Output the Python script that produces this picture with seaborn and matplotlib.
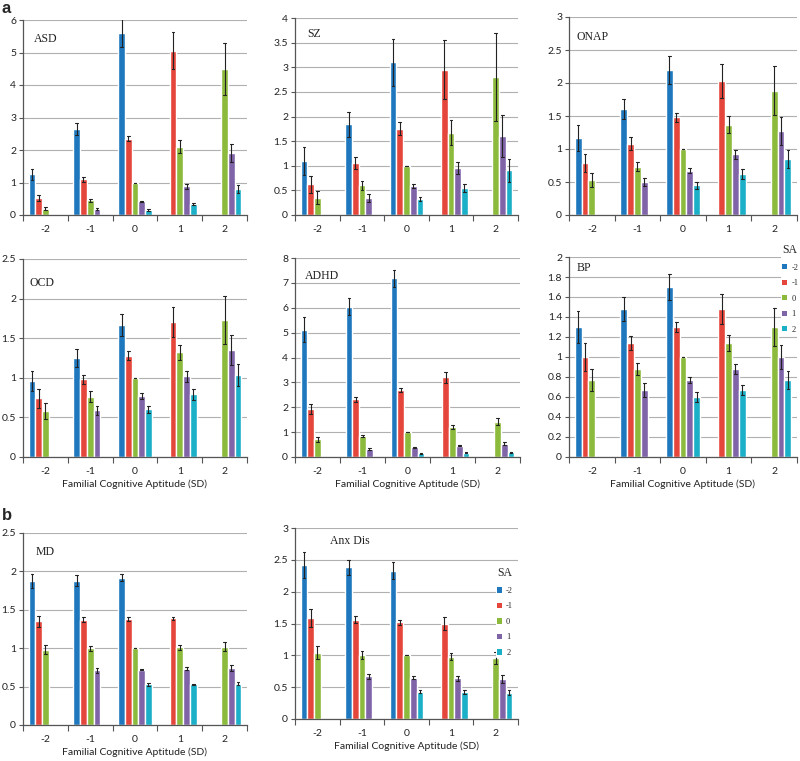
import numpy as np
import pandas as pd
import seaborn as sns
from matplotlib import pyplot as plt
from matplotlib.patches import Patch

sns.set_theme(style='white')
plt.rcParams['font.family'] = ['Lato', 'DejaVu Sans']

fca_levels = ['-2', '-1', '0', '1', '2']
sa_levels = ['-2', '-1', '0', '1', '2']
colors = ['#1F78BE', '#E5463C', '#8CBA3C', '#8064A8', '#1BAFC8']
n = np.nan

# rows = familial cognitive aptitude level, columns = SA level
asd_mean = [[1.25, 0.52, 0.20, n, n],
            [2.65, 1.10, 0.45, 0.18, n],
            [5.60, 2.35, 1.00, 0.42, 0.15],
            [n, 5.05, 2.10, 0.88, 0.35],
            [n, n, 4.50, 1.90, 0.80]]
asd_err = [[0.18, 0.10, 0.05, n, n],
           [0.18, 0.08, 0.05, 0.03, n],
           [0.43, 0.08, 0.00, 0.02, 0.02],
           [n, 0.57, 0.20, 0.07, 0.03],
           [n, n, 0.80, 0.28, 0.12]]

sz_mean = [[1.10, 0.62, 0.35, n, n],
           [1.84, 1.05, 0.60, 0.34, n],
           [3.10, 1.75, 1.00, 0.58, 0.33],
           [n, 2.95, 1.67, 0.95, 0.55],
           [n, n, 2.80, 1.60, 0.91]]
sz_err = [[0.28, 0.18, 0.13, n, n],
          [0.26, 0.12, 0.10, 0.08, n],
          [0.48, 0.13, 0.00, 0.04, 0.04],
          [n, 0.60, 0.25, 0.12, 0.08],
          [n, n, 0.90, 0.43, 0.23]]

onap_mean = [[1.17, 0.79, 0.53, n, n],
             [1.60, 1.08, 0.73, 0.50, n],
             [2.20, 1.48, 1.00, 0.67, 0.45],
             [n, 2.03, 1.37, 0.92, 0.62],
             [n, n, 1.88, 1.27, 0.85]]
onap_err = [[0.20, 0.14, 0.11, n, n],
            [0.15, 0.10, 0.07, 0.06, n],
            [0.21, 0.07, 0.00, 0.04, 0.05],
            [n, 0.26, 0.13, 0.07, 0.07],
            [n, n, 0.37, 0.21, 0.14]]

ocd_mean = [[0.96, 0.74, 0.58, n, n],
            [1.25, 0.98, 0.76, 0.59, n],
            [1.67, 1.28, 1.00, 0.77, 0.60],
            [n, 1.70, 1.32, 1.02, 0.79],
            [n, n, 1.73, 1.35, 1.04]]
ocd_err = [[0.13, 0.12, 0.10, n, n],
           [0.11, 0.06, 0.07, 0.06, n],
           [0.14, 0.06, 0.00, 0.04, 0.05],
           [n, 0.19, 0.10, 0.07, 0.07],
           [n, n, 0.30, 0.19, 0.14]]

adhd_mean = [[5.12, 1.92, 0.72, n, n],
             [6.05, 2.33, 0.84, 0.32, n],
             [7.18, 2.70, 1.00, 0.40, 0.15],
             [n, 3.20, 1.20, 0.45, 0.18],
             [n, n, 1.42, 0.53, 0.20]]
adhd_err = [[0.50, 0.20, 0.10, n, n],
            [0.35, 0.10, 0.05, 0.05, n],
            [0.35, 0.07, 0.00, 0.02, 0.03],
            [n, 0.22, 0.07, 0.02, 0.02],
            [n, n, 0.15, 0.06, 0.02]]

bp_mean = [[1.30, 1.00, 0.77, n, n],
           [1.48, 1.14, 0.88, 0.67, n],
           [1.70, 1.30, 1.00, 0.77, 0.60],
           [n, 1.48, 1.14, 0.88, 0.67],
           [n, n, 1.30, 1.00, 0.77]]
bp_err = [[0.16, 0.14, 0.11, n, n],
          [0.12, 0.07, 0.06, 0.07, n],
          [0.13, 0.05, 0.00, 0.03, 0.05],
          [n, 0.15, 0.08, 0.05, 0.05],
          [n, n, 0.19, 0.12, 0.09]]

md_mean = [[1.87, 1.35, 0.98, n, n],
           [1.88, 1.37, 1.00, 0.71, n],
           [1.92, 1.38, 1.00, 0.72, 0.53],
           [n, 1.39, 1.01, 0.73, 0.53],
           [n, n, 1.02, 0.74, 0.54]]
md_err = [[0.09, 0.07, 0.06, n, n],
          [0.07, 0.03, 0.03, 0.03, n],
          [0.05, 0.02, 0.00, 0.01, 0.02],
          [n, 0.02, 0.03, 0.02, 0.01],
          [n, n, 0.06, 0.04, 0.02]]

anx_mean = [[2.42, 1.58, 1.04, n, n],
            [2.38, 1.56, 1.01, 0.67, n],
            [2.33, 1.52, 1.00, 0.65, 0.43],
            [n, 1.50, 0.98, 0.64, 0.42],
            [n, n, 0.96, 0.63, 0.41]]
anx_err = [[0.21, 0.14, 0.10, n, n],
           [0.12, 0.05, 0.06, 0.04, n],
           [0.13, 0.04, 0.00, 0.02, 0.02],
           [n, 0.10, 0.05, 0.04, 0.03],
           [n, n, 0.09, 0.06, 0.04]]

W, H = 800, 761
fig = plt.figure(figsize=(W / 100, H / 100), dpi=100)


def make_ax(left, top, right, bottom):
    return fig.add_axes([left / W, 1 - bottom / H, (right - left) / W, (bottom - top) / H])


def draw(ax, name, mean, err, ymax, step, title_xy, xlabel=True, legend_anchor=None):
    rows = []
    for i, f in enumerate(fca_levels):
        for j, s in enumerate(sa_levels):
            m, e = mean[i][j], err[i][j]
            if np.isnan(m):
                continue
            # two rows per bar so that the interval is mean +/- err
            rows.append((f, s, m - e))
            rows.append((f, s, m + e))
    df = pd.DataFrame(rows, columns=['FCA', 'SA', 'value'])
    sns.barplot(data=df, x='FCA', y='value', hue='SA', order=fca_levels, hue_order=sa_levels,
                palette=colors, width=0.75, saturation=1,
                errorbar=lambda v: (v.min(), v.max()), capsize=0.3,
                err_kws={'color': '#222222', 'linewidth': 0.8},
                legend=False, ax=ax)

    ax.set_ylim(0, ymax)
    ticks = np.arange(0, ymax + step / 2, step)
    ax.set_yticks(ticks)
    ax.set_yticklabels(['%g' % round(t, 2) for t in ticks])
    ax.set_xlim(-0.5, 4.5)
    ax.set_xticks(range(5))
    ax.set_xticks(np.arange(-0.5, 5, 1), minor=True)
    ax.tick_params(axis='x', which='major', length=0, labelsize=7.5, pad=7, colors='#222222')
    ax.tick_params(axis='x', which='minor', length=4, width=0.8, color='#555555', bottom=True)
    ax.tick_params(axis='y', length=3, width=0.8, color='#555555', labelsize=7.5, pad=2,
                   left=True, labelcolor='#222222')
    ax.yaxis.grid(True, color='#b0b0b0', linewidth=0.8)
    ax.set_axisbelow(True)
    for side in ['top', 'right']:
        ax.spines[side].set_visible(False)
    for side in ['left', 'bottom']:
        ax.spines[side].set_color('#555555')
        ax.spines[side].set_linewidth(0.9)
    ax.set_ylabel('')
    if xlabel:
        ax.set_xlabel('Familial Cognitive Aptitude (SD)', fontsize=7.5, labelpad=3, color='#222222')
    else:
        ax.set_xlabel('')
    ax.text(title_xy[0], title_xy[1], name, transform=ax.transAxes, family='Liberation Serif',
            fontsize=8.5, va='center', ha='left', color='#222222')

    if legend_anchor is not None:
        handles = [Patch(facecolor=c, edgecolor='none') for c in colors]
        leg = ax.legend(handles, sa_levels, title='SA', loc='upper left', bbox_to_anchor=legend_anchor,
                        mode='expand', frameon=True, facecolor='white', edgecolor='none',
                        framealpha=1, handlelength=0.6, handleheight=0.6, handletextpad=0.5,
                        labelspacing=0.9, borderpad=0.15, borderaxespad=0,
                        prop={'family': 'Liberation Serif', 'size': 6})
        leg.get_title().set_family('Liberation Serif')
        leg.get_title().set_fontsize(8.5)
        leg._legend_box.align = 'left'


draw(make_ax(23, 20, 247, 215), 'ASD', asd_mean, asd_err, 6, 1, (0.05, 0.9), xlabel=False)
draw(make_ax(295, 18, 518, 215), 'SZ', sz_mean, sz_err, 4, 0.5, (0.055, 0.92), xlabel=False)
draw(make_ax(569, 17, 797, 215), 'ONAP', onap_mean, onap_err, 3, 0.5, (0.035, 0.9), xlabel=False)
draw(make_ax(23, 259, 247, 457), 'OCD', ocd_mean, ocd_err, 2.5, 0.5, (0.03, 0.88))
draw(make_ax(295, 258, 520, 457), 'ADHD', adhd_mean, adhd_err, 8, 1, (0.045, 0.91))
draw(make_ax(569, 257, 797, 457), 'BP', bp_mean, bp_err, 2, 0.2, (0.035, 0.945),
     legend_anchor=(0.93, 1.07, 0.07, 0))
draw(make_ax(23, 533, 247, 725), 'MD', md_mean, md_err, 2.5, 0.5, (0.058, 0.9))
draw(make_ax(295, 528, 518, 719), 'Anx Dis', anx_mean, anx_err, 3, 0.5, (0.157, 0.93),
     legend_anchor=(0.9, 0.8, 0.1, 0))

fig.text(2 / W, 1 - 1 / H, 'a', family='Liberation Sans', weight='bold', fontsize=12, va='top')
fig.text(2 / W, 1 - 508 / H, 'b', family='Liberation Sans', weight='bold', fontsize=12, va='top')

fig.savefig('out.png', dpi=100)
